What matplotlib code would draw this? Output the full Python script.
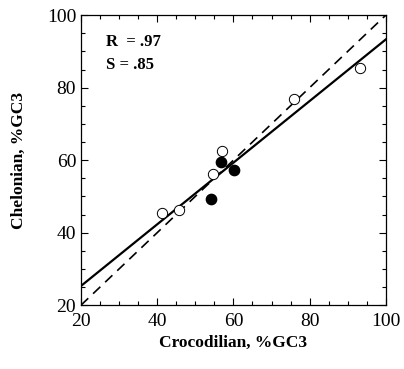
import matplotlib
matplotlib.use("Agg")
import matplotlib.pyplot as plt
import numpy as np
from matplotlib.ticker import MultipleLocator

# open circles
open_x = [41.2, 45.8, 54.7, 57.1, 76.0, 93.2]
open_y = [45.3, 46.2, 56.1, 62.6, 76.9, 85.3]
# filled circles
fill_x = [56.7, 60.1, 54.0]
fill_y = [59.4, 57.2, 49.4]

fit_slope = 0.85
fit_intercept = 8.3

plt.rcParams["font.family"] = ["Liberation Serif", "DejaVu Serif"]

fig = plt.figure(figsize=(4.04, 3.69), dpi=100)
ax = fig.add_axes([0.2005, 0.173, 0.7545, 0.786])

xs = np.array([20, 100])
ax.plot(xs, xs, color="black", lw=1.2, ls=(0, (6, 4)))
ax.plot(xs, fit_intercept + fit_slope * xs, color="black", lw=1.6)

ax.scatter(open_x, open_y, s=55, facecolors="white", edgecolors="black", linewidths=0.7, zorder=3)
ax.scatter(fill_x, fill_y, s=55, color="black", zorder=3)

ax.text(26.5, 92.5, "R  = .97", fontsize=12, fontweight="bold", va="center")
ax.text(26.5, 86.2, "S = .85", fontsize=12, fontweight="bold", va="center")

ax.set_xlim(20, 100)
ax.set_ylim(20, 100)
ax.xaxis.set_major_locator(MultipleLocator(20))
ax.yaxis.set_major_locator(MultipleLocator(20))
ax.xaxis.set_minor_locator(MultipleLocator(5))
ax.yaxis.set_minor_locator(MultipleLocator(5))
ax.tick_params(which="both", direction="in", top=True, right=True, labelsize=14)
ax.tick_params(which="major", length=5, width=0.8)
ax.tick_params(which="minor", length=3, width=0.8)
ax.tick_params(axis="x", pad=6)
for s in ax.spines.values():
    s.set_linewidth(0.9)

ax.set_xlabel("Crocodilian, %GC3", fontsize=12.5, fontweight="bold", labelpad=3)
ax.set_ylabel("Chelonian, %GC3", fontsize=12.5, fontweight="bold", labelpad=14)

fig.savefig("out.png", dpi=100)
